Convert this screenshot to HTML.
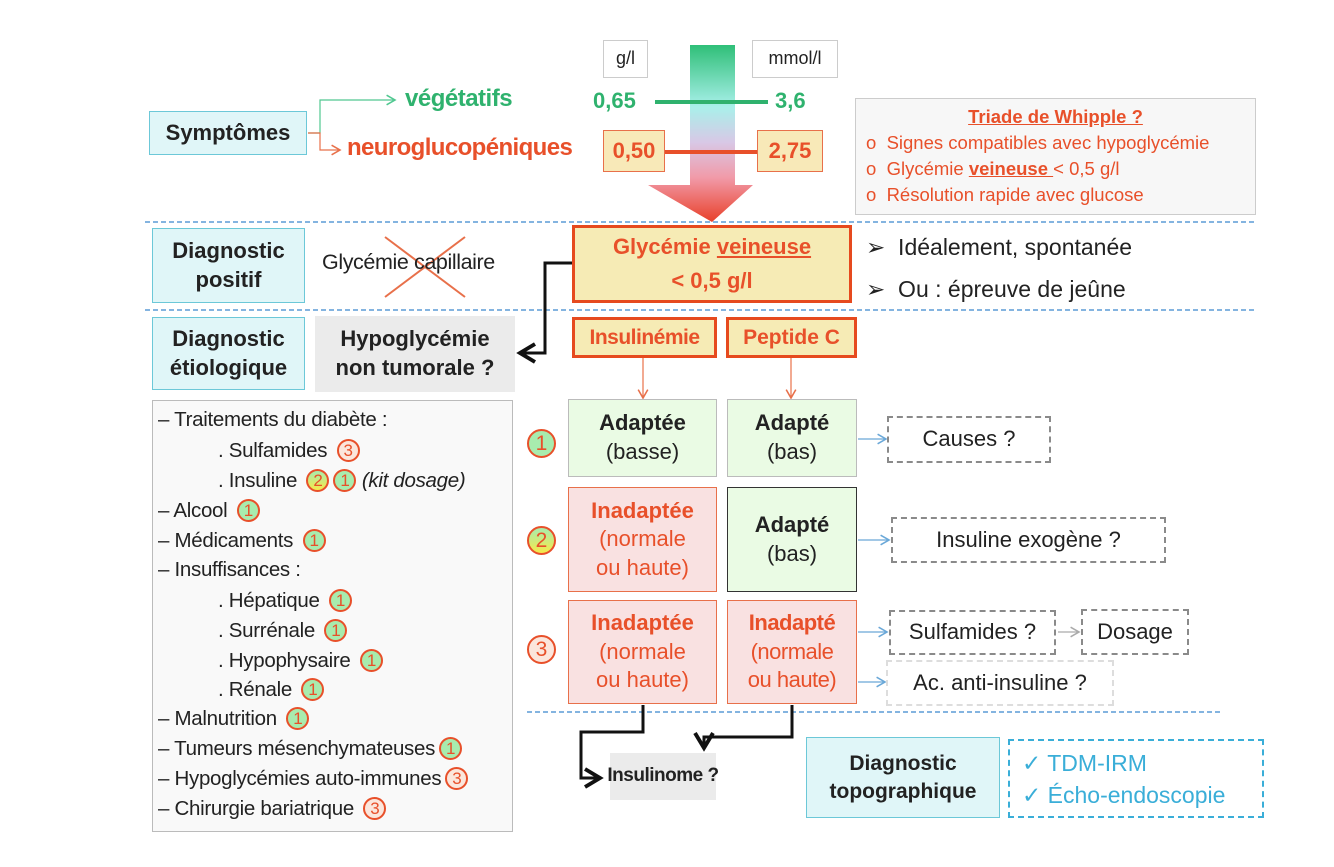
<!DOCTYPE html>
<html><head><meta charset="utf-8"><style>
*{margin:0;padding:0;box-sizing:border-box}
body{width:1334px;height:867px;background:#fff;position:relative;overflow:hidden;font-family:"Liberation Sans",Arial,sans-serif;color:#222}
.b{position:absolute;display:flex;flex-direction:column;align-items:center;justify-content:center;text-align:center;line-height:1.3;white-space:nowrap}
.t{position:absolute;white-space:nowrap}
.cy{background:#e0f6f8;border:1.5px solid #6cc8d8;font-weight:bold;font-size:22px;color:#222}
.or{color:#e8502a}
.gr{color:#2fb26e}
.c{position:absolute;width:29px;height:29px;border-radius:50%;border:2px solid #e8502a;color:#e8502a;font-size:21px;display:flex;align-items:center;justify-content:center;line-height:1}
.c1{background:#a8ecae}.c3{background:#fbe6dc}.c2{background:linear-gradient(#a8ecae,#f6e94a)}
.s{width:23px;height:23px;font-size:17px;display:inline-flex;position:relative;vertical-align:middle;margin-left:4px;top:-1px}
.li{position:absolute;left:158px;font-size:20.5px;white-space:nowrap;line-height:1;letter-spacing:-0.3px}
.dash{border:2px dashed #8a8a8a}
</style></head><body>
<svg width="1334" height="867" style="position:absolute;left:0;top:0">
<defs>
<linearGradient id="g" x1="0" y1="0" x2="0" y2="1">
<stop offset="0" stop-color="#2fbf78"/><stop offset="0.35" stop-color="#a9f0ea"/><stop offset="0.55" stop-color="#d8c8e6"/><stop offset="0.75" stop-color="#f19aa8"/><stop offset="1" stop-color="#e8402a"/></linearGradient>
<marker id="ab" markerWidth="10" markerHeight="10" refX="8" refY="5" orient="auto"><path d="M1,1 L8,5 L1,9" fill="none" stroke="#6aa8d8" stroke-width="1.3"/></marker>
<marker id="ag" markerWidth="10" markerHeight="10" refX="8" refY="5" orient="auto"><path d="M1,1 L8,5 L1,9" fill="none" stroke="#aaa" stroke-width="1.3"/></marker>
<marker id="ao" markerWidth="10" markerHeight="10" refX="8" refY="5" orient="auto"><path d="M1,1 L8,5 L1,9" fill="none" stroke="#e8704a" stroke-width="1.3"/></marker>
<marker id="agn" markerWidth="10" markerHeight="10" refX="8" refY="5" orient="auto"><path d="M1,1 L8,5 L1,9" fill="none" stroke="#50c890" stroke-width="1.3"/></marker>
<marker id="ak" markerWidth="8" markerHeight="8" refX="6" refY="4" orient="auto"><path d="M1,1 L6,4 L1,7" fill="none" stroke="#111" stroke-width="1.3"/></marker>
</defs>
<path d="M690,45 H735 V185 H753 L712,222 L648,185 H690 Z" fill="url(#g)"/>
<line x1="655" y1="102" x2="768" y2="102" stroke="#2fb26e" stroke-width="4"/>
<line x1="665" y1="152" x2="757" y2="152" stroke="#e8502a" stroke-width="4"/>
<path d="M308,133 H320 V100 H395" fill="none" stroke="#50c890" stroke-width="1.2" marker-end="url(#agn)"/>
<path d="M308,133 H320 V150 H340" fill="none" stroke="#e8704a" stroke-width="1.2" marker-end="url(#ao)"/>
<line x1="145" y1="222" x2="1255" y2="222" stroke="#5b9bd5" stroke-width="1.5" stroke-dasharray="5,3"/>
<line x1="145" y1="310" x2="1255" y2="310" stroke="#5b9bd5" stroke-width="1.5" stroke-dasharray="5,3"/>
<line x1="527" y1="712" x2="1222" y2="712" stroke="#5b9bd5" stroke-width="1.5" stroke-dasharray="5,3"/>
<line x1="385" y1="237" x2="465" y2="297" stroke="#e8704a" stroke-width="2"/>
<line x1="465" y1="237" x2="385" y2="297" stroke="#e8704a" stroke-width="2"/>
<path d="M572,263 H545 V353 H520" fill="none" stroke="#111" stroke-width="3" marker-end="url(#ak)"/>
<line x1="643" y1="358" x2="643" y2="398" stroke="#e8704a" stroke-width="1.2" marker-end="url(#ao)"/>
<line x1="791" y1="358" x2="791" y2="398" stroke="#e8704a" stroke-width="1.2" marker-end="url(#ao)"/>
<line x1="858" y1="439" x2="886" y2="439" stroke="#6aa8d8" stroke-width="1.2" marker-end="url(#ab)"/>
<line x1="858" y1="540" x2="889" y2="540" stroke="#6aa8d8" stroke-width="1.2" marker-end="url(#ab)"/>
<line x1="858" y1="632" x2="887" y2="632" stroke="#6aa8d8" stroke-width="1.2" marker-end="url(#ab)"/>
<line x1="858" y1="682" x2="885" y2="682" stroke="#6aa8d8" stroke-width="1.2" marker-end="url(#ab)"/>
<line x1="1058" y1="632" x2="1079" y2="632" stroke="#aaa" stroke-width="1.2" marker-end="url(#ag)"/>
<path d="M643,705 V732 H581 V778 H600" fill="none" stroke="#111" stroke-width="3" marker-end="url(#ak)"/>
<path d="M792,705 V737 H704 V748" fill="none" stroke="#111" stroke-width="3" marker-end="url(#ak)"/>
</svg>

<div class="b" style="left:603px;top:40px;width:45px;height:38px;border:1px solid #ccc;font-size:18px">g/l</div>
<div class="b" style="left:752px;top:40px;width:86px;height:38px;border:1px solid #ccc;font-size:18px">mmol/l</div>
<div class="t gr" style="left:593px;top:88px;font-size:22px;font-weight:bold">0,65</div>
<div class="t gr" style="left:775px;top:88px;font-size:22px;font-weight:bold">3,6</div>
<div class="b or" style="left:603px;top:130px;width:62px;height:42px;background:#f8e9b8;border:1.5px solid #e8704a;font-size:22px;font-weight:bold">0,50</div>
<div class="b or" style="left:757px;top:130px;width:66px;height:42px;background:#f8e9b8;border:1.5px solid #e8704a;font-size:22px;font-weight:bold">2,75</div>
<div class="t gr" style="left:405px;top:85px;font-size:24px;font-weight:bold;letter-spacing:-0.5px">végétatifs</div>
<div class="t or" style="left:347px;top:134px;font-size:24px;font-weight:bold;letter-spacing:-0.6px">neuroglucopéniques</div>
<div class="b cy" style="left:149px;top:111px;width:158px;height:44px">Symptômes</div>

<div style="position:absolute;left:855px;top:98px;width:401px;height:117px;background:#f7f7f7;border:1px solid #ccc;color:#e8502a;font-size:18.5px;line-height:26px;padding-top:5px;white-space:nowrap">
<div style="text-align:center;font-weight:bold;text-decoration:underline">Triade de Whipple ?</div>
<div style="padding-left:10px">o&nbsp;&nbsp;Signes compatibles avec hypoglycémie</div>
<div style="padding-left:10px">o&nbsp;&nbsp;Glycémie <b><u>veineuse </u></b>&lt; 0,5 g/l</div>
<div style="padding-left:10px">o&nbsp;&nbsp;Résolution rapide avec glucose</div>
</div>

<div class="b cy" style="left:152px;top:228px;width:153px;height:75px">Diagnostic<br>positif</div>
<div class="t" style="left:322px;top:250px;font-size:21.5px;letter-spacing:-0.4px">Glycémie capillaire</div>
<div class="b or" style="left:572px;top:225px;width:280px;height:78px;background:#f6ebb5;border:3px solid #e64a1e;font-size:22px;font-weight:bold;line-height:34px"><span>Glycémie <u>veineuse</u></span><span>&lt; 0,5 g/l</span></div>
<div class="t" style="left:866px;top:234px;font-size:23px">➢&nbsp;&nbsp;Idéalement, spontanée</div>
<div class="t" style="left:866px;top:276px;font-size:23px">➢&nbsp;&nbsp;Ou : épreuve de jeûne</div>

<div class="b cy" style="left:152px;top:317px;width:153px;height:73px">Diagnostic<br>étiologique</div>
<div class="b" style="left:315px;top:316px;width:200px;height:76px;background:#ebebeb;font-size:22px;font-weight:bold">Hypoglycémie<br>non tumorale ?</div>
<div class="b or" style="left:572px;top:317px;width:145px;height:41px;background:#f6ebb5;border:3px solid #e64a1e;font-size:21px;font-weight:bold;letter-spacing:-0.5px">Insulinémie</div>
<div class="b or" style="left:726px;top:317px;width:131px;height:41px;background:#f6ebb5;border:3px solid #e64a1e;font-size:21px;font-weight:bold">Peptide C</div>

<div class="b" style="left:568px;top:399px;width:149px;height:78px;background:#eafbe4;border:1.5px solid #bbb;font-size:22px"><b>Adaptée</b>(basse)</div>
<div class="b" style="left:727px;top:399px;width:130px;height:78px;background:#eafbe4;border:1.5px solid #bbb;font-size:22px"><b>Adapté</b>(bas)</div>
<div class="b or" style="left:568px;top:487px;width:149px;height:105px;background:#f9e1e1;border:1.5px solid #e8704a;font-size:22px"><b>Inadaptée</b>(normale<br>ou haute)</div>
<div class="b" style="left:727px;top:487px;width:130px;height:105px;background:#eafbe4;border:1.5px solid #333;font-size:22px"><b>Adapté</b>(bas)</div>
<div class="b or" style="left:568px;top:600px;width:149px;height:104px;background:#f9e1e1;border:1.5px solid #e8704a;font-size:22px"><b>Inadaptée</b>(normale<br>ou haute)</div>
<div class="b or" style="left:727px;top:600px;width:130px;height:104px;background:#f9e1e1;border:1.5px solid #e8704a;font-size:22px;letter-spacing:-0.5px"><b>Inadapté</b>(normale<br>ou haute)</div>
<div class="c c1" style="left:527px;top:429px">1</div>
<div class="c c2" style="left:527px;top:526px">2</div>
<div class="c c3" style="left:527px;top:635px">3</div>

<div class="b dash" style="left:887px;top:416px;width:164px;height:47px;font-size:22px">Causes ?</div>
<div class="b dash" style="left:891px;top:517px;width:275px;height:46px;font-size:22px">Insuline exogène ?</div>
<div class="b dash" style="left:889px;top:610px;width:167px;height:45px;font-size:22px">Sulfamides ?</div>
<div class="b dash" style="left:1081px;top:609px;width:108px;height:46px;font-size:22px">Dosage</div>
<div class="b" style="left:886px;top:660px;width:228px;height:46px;font-size:22px;border:2px dashed #ddd">Ac. anti-insuline ?</div>

<div class="b" style="left:610px;top:753px;width:106px;height:47px;background:#ebebeb;font-size:19px;font-weight:bold;letter-spacing:-0.5px">Insulinome ?</div>
<div class="b cy" style="left:806px;top:737px;width:194px;height:81px;font-size:21px">Diagnostic<br>topographique</div>
<div style="position:absolute;left:1008px;top:739px;width:256px;height:79px;border:2px dashed #3aaed8;color:#3aaed8;font-size:23px;line-height:32px;padding:6px 0 0 12px;white-space:nowrap">✓ TDM-IRM<br>✓ Écho-endoscopie</div>

<div style="position:absolute;left:152px;top:400px;width:361px;height:432px;background:#f9f9f9;border:1.5px solid #bbb"></div>
<div class="li" style="top:410px">– Traitements du diabète :</div>
<div class="li" style="top:440px;left:218px">. Sulfamides <span class="c c3 s">3</span></div>
<div class="li" style="top:470px;left:218px">. Insuline <span class="c c2 s">2</span><span class="c c1 s">1</span> <i>(kit dosage)</i></div>
<div class="li" style="top:500px">– Alcool <span class="c c1 s">1</span></div>
<div class="li" style="top:530px">– Médicaments <span class="c c1 s">1</span></div>
<div class="li" style="top:560px">– Insuffisances :</div>
<div class="li" style="top:590px;left:218px">. Hépatique <span class="c c1 s">1</span></div>
<div class="li" style="top:620px;left:218px">. Surrénale <span class="c c1 s">1</span></div>
<div class="li" style="top:650px;left:218px">. Hypophysaire <span class="c c1 s">1</span></div>
<div class="li" style="top:679px;left:218px">. Rénale <span class="c c1 s">1</span></div>
<div class="li" style="top:708px">– Malnutrition <span class="c c1 s">1</span></div>
<div class="li" style="top:738px">– Tumeurs mésenchymateuses<span class="c c1 s">1</span></div>
<div class="li" style="top:768px">– Hypoglycémies auto-immunes<span class="c c3 s">3</span></div>
<div class="li" style="top:798px">– Chirurgie bariatrique <span class="c c3 s">3</span></div>
</body></html>
